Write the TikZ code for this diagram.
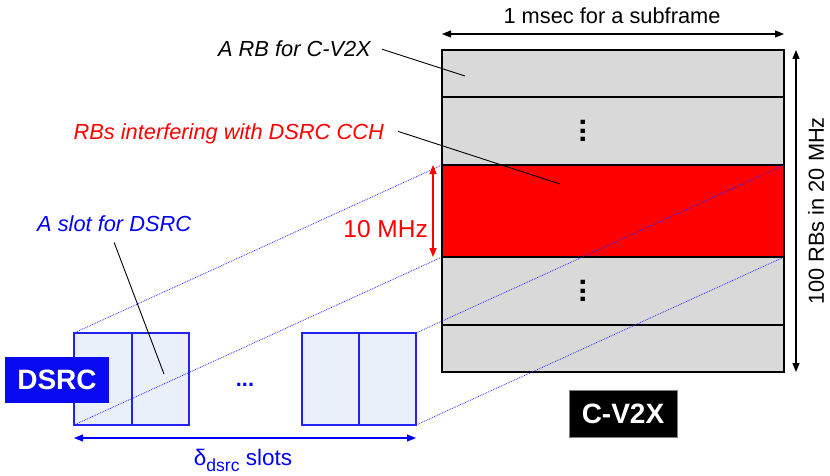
\documentclass[tikz,border=0pt]{standalone}
\usepackage{fontspec}
\setmainfont{Liberation Sans}
\usetikzlibrary{arrows.meta}
\definecolor{rbgray}{RGB}{217,217,217}
\definecolor{slotfill}{RGB}{234,240,250}
\definecolor{slotblue}{RGB}{35,35,240}
\definecolor{dsrcblue}{RGB}{10,10,240}
\begin{document}
\begin{tikzpicture}[x=1pt,y=-1pt,
  rb/.style={draw=black, line width=1.2pt, fill=rbgray, minimum width=342pt, inner sep=0pt, outer sep=0pt},
  slotbox/.style={draw=slotblue, line width=2pt, fill=slotfill, minimum height=92pt, inner sep=0pt, outer sep=0pt},
  lbl/.style={font=\fontsize{21.8}{24}\selectfont, inner sep=0pt},
  ilbl/.style={inner sep=0pt, font=\fontsize{21.8}{24}\selectfont\itshape},
  tag/.style={font=\fontsize{28}{30}\selectfont\bfseries, text=white, inner sep=0pt},
  proj/.style={draw=blue!85, line width=0.8pt, densely dotted},
  leader/.style={draw=black, line width=0.9pt},
  dim/.style={line width=1.2pt, {Triangle[length=9pt,width=7pt]}-{Triangle[length=9pt,width=7pt]}},
]
\useasboundingbox (0,0) rectangle (830,476);

% C-V2X subframe rows
\node[rb, minimum height=47pt] (r1) at (613,73.5) {};
\node[rb, minimum height=68pt] (r2) at (613,131) {};
\node[rb, minimum height=92pt, fill=red] (rc) at (613,211) {};
\node[rb, minimum height=68pt] (r4) at (613,291) {};
\node[rb, minimum height=47pt] (r5) at (613,348.5) {};
\draw[line width=1.6pt] (r1.north west) rectangle (r5.south east);
\node[font=\fontsize{30}{30}\selectfont\bfseries, rotate=90, inner sep=0pt] (d1) at (r2.center -| 583,0) {...};
\node[font=\fontsize{30}{30}\selectfont\bfseries, rotate=90, inner sep=0pt] (d2) at (r4.center -| 583,0) {...};

% DSRC slots
\node[slotbox, minimum width=115pt] (b1) at (131.5,379) {};
\node[slotbox, minimum width=114pt] (b2) at (359,379) {};
\draw[draw=slotblue, line width=2pt] (b1.north) -- (b1.south);
\draw[draw=slotblue, line width=2pt] (b2.north) -- (b2.south);
\node[lbl, text=blue, font=\fontsize{21.8}{24}\selectfont\bfseries] (d3) at (245,385) {...};

% tags
\node[tag, fill=dsrcblue, minimum width=104pt, minimum height=46pt] (dsrc) at (57,380) {DSRC};
\node[tag, fill=black, draw=gray, line width=0.6pt, minimum width=108pt, minimum height=47pt] (cv) at (623,413.5) {C-V2X};

% projection lines
\draw[proj] (b1.north west) -- (rc.north west);
\draw[proj] (b1.south west) -- (rc.south west);
\draw[proj] (b2.north east) -- (rc.north east);
\draw[proj] (b2.south east) -- (rc.south east);

% dimensions
\draw[dim] ([yshift=16pt]r1.north west) -- ([yshift=16pt]r1.north east);
\node[lbl, anchor=base] (tm) at (612,24) {1 msec for a subframe};
\draw[dim] ([xshift=12pt]r1.north east) -- ([xshift=12pt]r5.south east);
\node[lbl, rotate=90] (vf) at (816,211) {100 RBs in 20 MHz};
\draw[dim, color=red] ([xshift=-9pt]rc.north west) -- ([xshift=-9pt]rc.south west);
\node[lbl, text=red, anchor=base east, font=\fontsize{24.5}{26}\selectfont] (tenm) at (428,237) {10 MHz};
\draw[dim, color=blue] ([yshift=-13pt]b1.south west) -- ([yshift=-13pt]b2.south east);
\node[lbl, text=blue, anchor=base, font=\fontsize{22.5}{24}\selectfont] (dl) at (243,465) {δ\raisebox{-6.7pt}{\fontsize{17.5}{18}\selectfont dsrc} slots};

% labels and leaders
\node[ilbl, anchor=base east] (lrb) at (371,57) {A RB for C-V2X};
\node[ilbl, text=red, anchor=base east] (lri) at (384,140) {RBs interfering with DSRC CCH};
\node[ilbl, text=blue, anchor=base west] (lsl) at (37,231) {A slot for DSRC};
\coordinate (prb) at (465,76);
\coordinate (pri) at (560,184);
\coordinate (psl) at (164,374);
\draw[leader] ([xshift=11pt]lrb.east) -- (prb);
\draw[leader] ([xshift=14pt,yshift=3pt]lri.east) -- (pri);
\draw[leader] ([yshift=-11pt]lsl.south) -- (psl);
\end{tikzpicture}
\end{document}
